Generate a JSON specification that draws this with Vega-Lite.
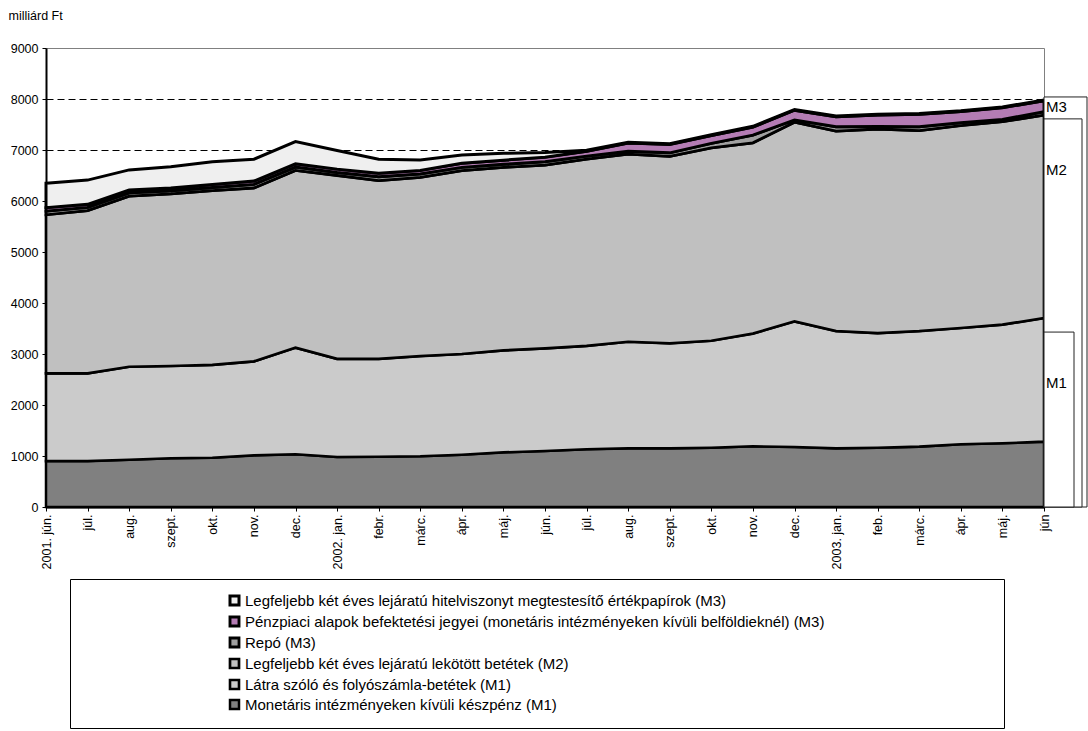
{
  "$schema": "https://vega.github.io/schema/vega-lite/v6.json",
  "width": 998,
  "height": 459,
  "autosize": {"type": "none"},
  "padding": {"left": 46, "top": 48, "right": 44, "bottom": 224},
  "background": "white",
  "config": {
    "font": "Liberation Sans",
    "view": {"stroke": "#808080", "strokeWidth": 1},
    "axis": {"labelColor": "black", "tickColor": "black", "domainColor": "black", "labelFont": "Liberation Sans"}
  },
  "layer": [
    {
      "data": {
        "values": [
          {"i": 0, "m1a": 900, "m1b": 1720, "m2": 3110, "m3a": 70, "m3b": 70, "m3c": 480},
          {"i": 1, "m1a": 900, "m1b": 1720, "m2": 3190, "m3a": 65, "m3b": 60, "m3c": 475},
          {"i": 2, "m1a": 927, "m1b": 1823, "m2": 3345, "m3a": 65, "m3b": 55, "m3c": 395},
          {"i": 3, "m1a": 955, "m1b": 1810, "m2": 3375, "m3a": 60, "m3b": 55, "m3c": 415},
          {"i": 4, "m1a": 967, "m1b": 1818, "m2": 3420, "m3a": 60, "m3b": 60, "m3c": 445},
          {"i": 5, "m1a": 1013, "m1b": 1842, "m2": 3400, "m3a": 70, "m3b": 65, "m3c": 430},
          {"i": 6, "m1a": 1033, "m1b": 2092, "m2": 3475, "m3a": 65, "m3b": 65, "m3c": 435},
          {"i": 7, "m1a": 980, "m1b": 1925, "m2": 3595, "m3a": 60, "m3b": 65, "m3c": 365},
          {"i": 8, "m1a": 986, "m1b": 1919, "m2": 3495, "m3a": 75, "m3b": 70, "m3c": 275},
          {"i": 9, "m1a": 994, "m1b": 1966, "m2": 3505, "m3a": 65, "m3b": 70, "m3c": 205},
          {"i": 10, "m1a": 1025, "m1b": 1975, "m2": 3595, "m3a": 65, "m3b": 80, "m3c": 160},
          {"i": 11, "m1a": 1072, "m1b": 1998, "m2": 3590, "m3a": 60, "m3b": 80, "m3c": 135},
          {"i": 12, "m1a": 1098, "m1b": 2012, "m2": 3595, "m3a": 65, "m3b": 90, "m3c": 90},
          {"i": 13, "m1a": 1131, "m1b": 2029, "m2": 3660, "m3a": 60, "m3b": 95, "m3c": 20},
          {"i": 14, "m1a": 1150, "m1b": 2090, "m2": 3680, "m3a": 55, "m3b": 160, "m3c": 15},
          {"i": 15, "m1a": 1150, "m1b": 2060, "m2": 3665, "m3a": 70, "m3b": 165, "m3c": 15},
          {"i": 16, "m1a": 1163, "m1b": 2097, "m2": 3780, "m3a": 90, "m3b": 155, "m3c": 15},
          {"i": 17, "m1a": 1190, "m1b": 2210, "m2": 3740, "m3a": 150, "m3b": 160, "m3c": 15},
          {"i": 18, "m1a": 1176, "m1b": 2464, "m2": 3905, "m3a": 45, "m3b": 190, "m3c": 15},
          {"i": 19, "m1a": 1150, "m1b": 2300, "m2": 3920, "m3a": 85, "m3b": 195, "m3c": 15},
          {"i": 20, "m1a": 1163, "m1b": 2247, "m2": 4000, "m3a": 50, "m3b": 225, "m3c": 15},
          {"i": 21, "m1a": 1183, "m1b": 2267, "m2": 3930, "m3a": 75, "m3b": 245, "m3c": 15},
          {"i": 22, "m1a": 1229, "m1b": 2281, "m2": 3970, "m3a": 55, "m3b": 220, "m3c": 15},
          {"i": 23, "m1a": 1249, "m1b": 2326, "m2": 3980, "m3a": 45, "m3b": 230, "m3c": 15},
          {"i": 24, "m1a": 1281, "m1b": 2424, "m2": 3980, "m3a": 65, "m3b": 215, "m3c": 15}
        ]
      },
      "transform": [{"fold": ["m1a", "m1b", "m2", "m3a", "m3b", "m3c"], "as": ["key", "value"]}],
      "mark": {"type": "area", "stroke": "black", "interpolate": "linear"},
      "encoding": {
        "x": {
          "field": "i", "type": "quantitative",
          "scale": {"domain": [0, 24], "nice": false, "zero": false},
          "axis": {
            "title": null, "grid": false,
            "values": [0,1,2,3,4,5,6,7,8,9,10,11,12,13,14,15,16,17,18,19,20,21,22,23,24],
            "labelExpr": "['2001. jún.','júl.','aug.','szept.','okt.','nov.','dec.','2002. jan.','febr.','márc.','ápr.','máj.','jún.','júl.','aug.','szept.','okt.','nov.','dec.','2003. jan.','feb.','márc.','ápr.','máj.','jún'][datum.value]",
            "labelAngle": -90, "labelAlign": "right", "labelBaseline": "middle",
            "labelFontSize": 12.5, "labelPadding": 3, "labelOverlap": false, "labelFlush": false,
            "tickSize": 4, "domainWidth": 2
          }
        },
        "y": {
          "field": "value", "type": "quantitative", "stack": "zero",
          "scale": {"domain": [0, 9000], "nice": false},
          "axis": {
            "title": "milliárd Ft", "titleAngle": 0, "titleAlign": "left", "titleBaseline": "middle",
            "titleX": -38, "titleY": -33, "titleFontSize": 12.5, "titleFontWeight": "normal", "titleColor": "black",
            "values": [0,1000,2000,3000,4000,5000,6000,7000,8000,9000],
            "format": "d",
            "grid": true, "gridColor": "black", "gridDash": [7, 4], "gridWidth": 1,
            "gridOpacity": {"condition": {"test": "datum.value === 9000 || datum.value === 0", "value": 0}, "value": 1},
            "labelFontSize": 12.5, "labelPadding": 4, "tickSize": 4, "domainWidth": 2
          }
        },
        "color": {
          "field": "key", "type": "nominal",
          "scale": {
            "domain": ["m1a", "m1b", "m2", "m3a", "m3b", "m3c"],
            "range": ["#808080", "#cbcbcb", "#c0c0c0", "#a0a0a0", "#b47cb4", "#efefef"]
          },
          "legend": {
            "orient": "none", "legendX": 24, "legendY": 531, "direction": "vertical",
            "values": ["m3c", "m3b", "m3a", "m2", "m1b", "m1a"],
            "labelExpr": "['Legfeljebb két éves lejáratú hitelviszonyt megtestesítő értékpapírok (M3)','Pénzpiaci alapok befektetési jegyei (monetáris intézményeken kívüli belföldieknél) (M3)\u2800\u2800\u2800\u2800\u2800\u2800\u2800\u2800\u2800\u2800\u2800\u2800\u2800\u2800\u2800','Repó (M3)','Legfeljebb két éves lejáratú lekötött betétek (M2)','Látra szóló és folyószámla-betétek (M1)','Monetáris intézményeken kívüli készpénz (M1)'][indexof(['m3c','m3b','m3a','m2','m1b','m1a'], datum.value)]",
            "title": "\u2800\u2800\u2800\u2800\u2800\u2800\u2800\u2800\u2800\u2800\u2800\u2800\u2800",
            "titleOrient": "left", "titlePadding": 0, "titleFontSize": 15.2, "titleFont": "Liberation Sans", "titleLimit": 2000,
            "strokeColor": "black", "padding": 14,
            "symbolType": "square", "symbolSize": 81, "symbolStrokeColor": "black", "symbolStrokeWidth": 1.5,
            "labelFontSize": 15, "labelFont": "Liberation Sans", "labelColor": "black", "labelLimit": 3000,
            "rowPadding": 0, "labelOffset": 3
          }
        },
        "strokeWidth": {
          "field": "key", "type": "nominal",
          "scale": {"domain": ["m1a", "m1b", "m2", "m3a", "m3b", "m3c"], "range": [2.5, 3, 3, 2.5, 2.5, 1.2]},
          "legend": null
        },
        "order": {"field": "key", "type": "ordinal"}
      }
    },
    {
      "data": {"values": [{"aggr": "M3", "felso": 8040}, {"aggr": "M2", "felso": 7610}, {"aggr": "M1", "felso": 3430}]},
      "transform": [{"filter": "datum.aggr === 'M3'"}],
      "mark": {"type": "rect", "fill": "white", "stroke": "#222222", "strokeWidth": 1, "x2Offset": 43},
      "encoding": {
        "x": {"datum": 24},
        "x2": {"datum": 24},
        "y": {"field": "felso", "type": "quantitative"},
        "y2": {"datum": 0}
      }
    },
    {
      "data": {"values": [{"aggr": "M3", "felso": 8040}, {"aggr": "M2", "felso": 7610}, {"aggr": "M1", "felso": 3430}]},
      "transform": [{"filter": "datum.aggr === 'M2'"}],
      "mark": {"type": "rect", "fill": "white", "stroke": "#222222", "strokeWidth": 1, "x2Offset": 38},
      "encoding": {
        "x": {"datum": 24},
        "x2": {"datum": 24},
        "y": {"field": "felso", "type": "quantitative"},
        "y2": {"datum": 0}
      }
    },
    {
      "data": {"values": [{"aggr": "M3", "felso": 8040}, {"aggr": "M2", "felso": 7610}, {"aggr": "M1", "felso": 3430}]},
      "transform": [{"filter": "datum.aggr === 'M1'"}],
      "mark": {"type": "rect", "fill": "white", "stroke": "#222222", "strokeWidth": 1, "x2Offset": 30},
      "encoding": {
        "x": {"datum": 24},
        "x2": {"datum": 24},
        "y": {"field": "felso", "type": "quantitative"},
        "y2": {"datum": 0}
      }
    },
    {
      "data": {"values": [{"aggr": "M3", "felso": 8040}, {"aggr": "M2", "felso": 7610}, {"aggr": "M1", "felso": 3430}]},
      "transform": [{"filter": "datum.aggr === 'M3'"}],
      "mark": {"type": "text", "align": "left", "baseline": "middle", "dx": 2, "dy": 10, "fontSize": 15, "font": "Liberation Sans", "color": "black"},
      "encoding": {
        "x": {"datum": 24},
        "y": {"field": "felso", "type": "quantitative"},
        "text": {"field": "aggr"}
      }
    },
    {
      "data": {"values": [{"aggr": "M3", "felso": 8040}, {"aggr": "M2", "felso": 7610}, {"aggr": "M1", "felso": 3430}]},
      "transform": [{"filter": "datum.aggr !== 'M3'"}],
      "mark": {"type": "text", "align": "left", "baseline": "middle", "dx": 2, "dy": 51, "fontSize": 15, "font": "Liberation Sans", "color": "black"},
      "encoding": {
        "x": {"datum": 24},
        "y": {"field": "felso", "type": "quantitative"},
        "text": {"field": "aggr"}
      }
    }
  ]
}
